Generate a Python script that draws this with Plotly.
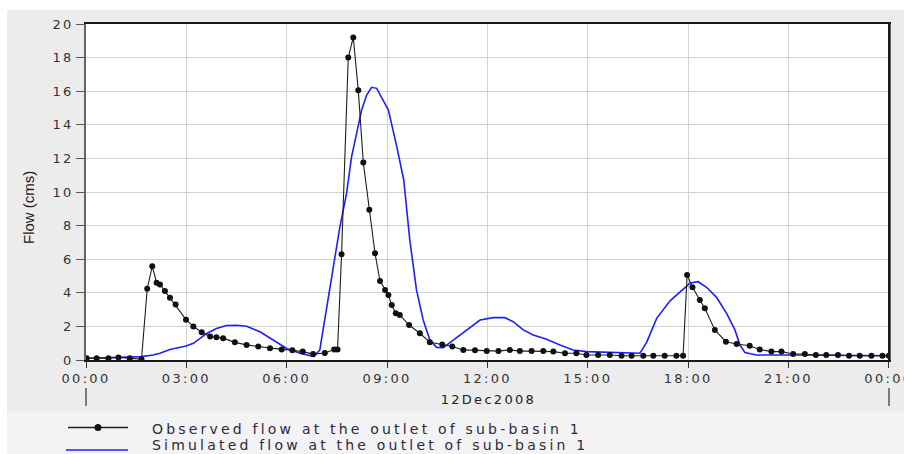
import plotly.graph_objects as go
import pandas as pd

# ---------------- data (hours after 12Dec2008 00:00, flow in cms) ----------------
obs_hours = [0.02, 0.32, 0.67, 0.97, 1.31, 1.66, 1.83, 1.98, 2.11, 2.21, 2.36, 2.51, 2.68,
             2.99, 3.21, 3.46, 3.71, 3.90, 4.10, 4.45, 4.80, 5.15, 5.50, 5.85, 6.17, 6.48,
             6.79, 7.14, 7.42, 7.52, 7.64, 7.84, 7.99, 8.14, 8.29, 8.47, 8.64, 8.79, 8.94,
             9.04, 9.14, 9.26, 9.38, 9.66, 9.98, 10.28, 10.65, 10.95, 11.28, 11.63, 11.98,
             12.33, 12.67, 12.97, 13.32, 13.67, 13.97, 14.32, 14.66, 14.96, 15.31, 15.66,
             16.01, 16.31, 16.66, 16.96, 17.30, 17.65, 17.85, 17.97, 18.13, 18.35, 18.50,
             18.80, 19.13, 19.45, 19.84, 20.14, 20.49, 20.79, 21.14, 21.49, 21.82, 22.13,
             22.48, 22.81, 23.13, 23.48, 23.81, 24.00]
obs_flow = [0.10, 0.10, 0.10, 0.15, 0.10, 0.05, 4.24, 5.58, 4.60, 4.50, 4.10, 3.70, 3.30,
            2.40, 2.00, 1.65, 1.40, 1.35, 1.30, 1.05, 0.90, 0.80, 0.70, 0.63, 0.58, 0.50,
            0.35, 0.42, 0.62, 0.62, 6.30, 18.00, 19.20, 16.05, 11.75, 8.95, 6.35, 4.70, 4.17,
            3.87, 3.27, 2.78, 2.68, 2.08, 1.59, 1.06, 0.92, 0.80, 0.60, 0.58, 0.53,
            0.53, 0.60, 0.53, 0.53, 0.53, 0.50, 0.40, 0.40, 0.30, 0.30, 0.30,
            0.25, 0.25, 0.25, 0.25, 0.25, 0.25, 0.25, 5.06, 4.33, 3.57, 3.08,
            1.79, 1.09, 0.95, 0.85, 0.63, 0.50, 0.50, 0.36, 0.36, 0.30, 0.30,
            0.30, 0.25, 0.25, 0.25, 0.25, 0.25]

sim_hours = [0.00, 0.50, 1.00, 1.66, 2.00, 2.21, 2.51, 2.99, 3.21, 3.41, 3.61, 3.90, 4.20,
             4.50, 4.80, 5.20, 5.60, 6.00, 6.40, 6.81, 6.99, 7.29, 7.59, 7.79, 7.94, 8.09,
             8.24, 8.39, 8.54, 8.69, 8.89, 9.04, 9.29, 9.50, 9.68, 9.88, 10.08, 10.28, 10.48,
             10.68, 10.98, 11.38, 11.78, 12.17, 12.52, 12.77, 13.07, 13.37, 13.77, 14.17,
             14.56, 14.96, 15.36, 15.86, 16.16, 16.56, 16.76, 17.06, 17.46, 17.76, 18.06,
             18.30, 18.55, 18.85, 19.15, 19.40, 19.55, 19.70, 20.04, 21.34, 22.50, 24.00]
sim_flow = [0.10, 0.12, 0.15, 0.20, 0.30, 0.40, 0.63, 0.83, 0.99, 1.28, 1.58, 1.88, 2.05,
            2.07, 2.01, 1.68, 1.19, 0.69, 0.40, 0.20, 0.60, 4.17, 7.93, 9.92, 12.10, 13.49,
            14.88, 15.77, 16.23, 16.17, 15.48, 14.88, 12.70, 10.70, 7.14, 4.17, 2.38, 1.19, 0.75,
            0.73, 1.19, 1.79, 2.38, 2.52, 2.52, 2.28, 1.79, 1.49, 1.23, 0.89,
            0.60, 0.50, 0.47, 0.46, 0.40, 0.40, 1.05, 2.48, 3.52, 4.07, 4.58,
            4.66, 4.33, 3.73, 2.78, 1.79, 0.89, 0.44, 0.30, 0.30, 0.27, 0.25]

y_ticks = [0, 2, 4, 6, 8, 10, 12, 14, 16, 18, 20]
series_names = ["Observed flow at the outlet of sub-basin 1",
                "Simulated flow at the outlet of sub-basin 1"]
date_label = "12Dec2008"
y_title = "Flow (cms)"

# ---------------- figure ----------------
W, H = 904, 454
ML, MR, MT, MB = 86, 15, 24, 94
PW, PH = W - ML - MR, H - MT - MB

def px(x):
    return (x - ML) / PW

def py(y):
    return (H - MB - y) / PH

base = pd.Timestamp("2008-12-12 00:00")
obs_t = base + pd.to_timedelta(obs_hours, unit="h")
sim_t = base + pd.to_timedelta(sim_hours, unit="h")

FONT = "DejaVu Sans"
BLUE = "#1f1fff"

fig = go.Figure()
fig.add_trace(go.Scatter(x=sim_t, y=sim_flow, mode="lines", name=series_names[1],
                         line=dict(color=BLUE, width=1.6), showlegend=False))
fig.add_trace(go.Scatter(x=obs_t, y=obs_flow, mode="lines+markers", name=series_names[0],
                         line=dict(color="#202020", width=1.1),
                         marker=dict(color="#111111", size=6, symbol="circle"),
                         showlegend=False))

fig.update_layout(
    width=W, height=H,
    margin=dict(l=ML, r=MR, t=MT, b=MB, autoexpand=False),
    paper_bgcolor="#ececec", plot_bgcolor="white",
    font=dict(family=FONT, size=13, color="#333333"),
    xaxis=dict(range=[base, base + pd.Timedelta(hours=24, seconds=20)], type="date",
               dtick=3 * 3600 * 1000, tick0=base, tickformat="%H:%M",
               ticklabeloverflow="allow",
               showgrid=True, gridcolor="#d2d2d2", gridwidth=1,
               ticks="outside", ticklen=6, tickcolor="#333333", tickwidth=1.2,
               showline=True, linecolor="#1a1a1a", linewidth=1.5, mirror=True,
               tickfont=dict(family=FONT, size=13, color="#333333"),
               zeroline=False, automargin=False),
    yaxis=dict(range=[0, 20], tickvals=y_ticks,
               showgrid=True, gridcolor="#d2d2d2", gridwidth=1,
               ticks="outside", ticklen=8, tickcolor="#555555", tickwidth=1.2,
               showline=True, linecolor="#666666", linewidth=1.5, mirror=True,
               tickfont=dict(family=FONT, size=13, color="#333333"),
               zeroline=False, automargin=False),
)

shapes = [
    # white strips at top and left edge
    dict(type="rect", xref="paper", yref="paper", x0=px(0), x1=px(W), y0=py(10), y1=py(0),
         fillcolor="white", line=dict(width=0), layer="below"),
    dict(type="rect", xref="paper", yref="paper", x0=px(0), x1=px(7), y0=py(H), y1=py(0),
         fillcolor="white", line=dict(width=0), layer="below"),
    # lighter band for legend area
    dict(type="rect", xref="paper", yref="paper", x0=px(7), x1=px(W), y0=py(H), y1=py(412),
         fillcolor="#f3f3f3", line=dict(width=0), layer="below"),
    # right border heavier
    dict(type="line", xref="paper", yref="paper", x0=1, x1=1, y0=0, y1=1,
         line=dict(color="#1a1a1a", width=2)),
    # date separator marks
    dict(type="line", xref="paper", yref="paper", x0=px(86), x1=px(86), y0=py(388), y1=py(406),
         line=dict(color="#555555", width=1.5)),
    dict(type="line", xref="paper", yref="paper", x0=px(889), x1=px(889), y0=py(388), y1=py(406),
         line=dict(color="#555555", width=1.5)),
    # legend samples
    dict(type="line", xref="paper", yref="paper", x0=px(68), x1=px(128), y0=py(427.5), y1=py(427.5),
         line=dict(color="#202020", width=1.3)),
    dict(type="circle", xref="paper", yref="paper", x0=px(94.5), x1=px(101.5), y0=py(431), y1=py(424),
         fillcolor="#111111", line=dict(color="#111111", width=0)),
    dict(type="line", xref="paper", yref="paper", x0=px(66), x1=px(128), y0=py(450), y1=py(450),
         line=dict(color=BLUE, width=1.3)),
]
fig.update_layout(shapes=shapes)

annotations = [
    dict(text=y_title, xref="paper", yref="paper", x=px(28), y=py(208), textangle=-90,
         showarrow=False, xanchor="center", yanchor="middle",
         font=dict(family="Liberation Sans", size=15, color="#222222")),
    dict(text=date_label, xref="paper", yref="paper", x=px(488), y=py(399),
         showarrow=False, xanchor="center", yanchor="middle",
         font=dict(family=FONT, size=13, color="#222222")),
    dict(text=series_names[0], xref="paper", yref="paper", x=px(150), y=py(428.5),
         showarrow=False, xanchor="left", yanchor="middle", align="left",
         font=dict(family=FONT, size=14, color="#2a2a40")),
    dict(text=series_names[1], xref="paper", yref="paper", x=px(150), y=py(445.5),
         showarrow=False, xanchor="left", yanchor="middle", align="left",
         font=dict(family=FONT, size=14, color="#2a2a40")),
]
fig.update_layout(annotations=annotations)

# the original rendering uses widely spaced glyphs; reproduce that spacing
post = """
var gd = document.getElementById('{plot_id}');
function spaceText(){
  gd.querySelectorAll('.xtick text, .ytick text').forEach(function(t){ t.style.letterSpacing = '2.3px'; });
  gd.querySelectorAll('.annotation-text').forEach(function(t){
    var s = t.textContent;
    if (s.indexOf('flow at the outlet') >= 0) { t.style.letterSpacing = '3.2px'; }
    else if (s === '12Dec2008') { t.style.letterSpacing = '2.3px'; }
  });
}
spaceText();
if (gd.on) { gd.on('plotly_afterplot', spaceText); }
"""

fig.write_html("out.html", post_script=post)
